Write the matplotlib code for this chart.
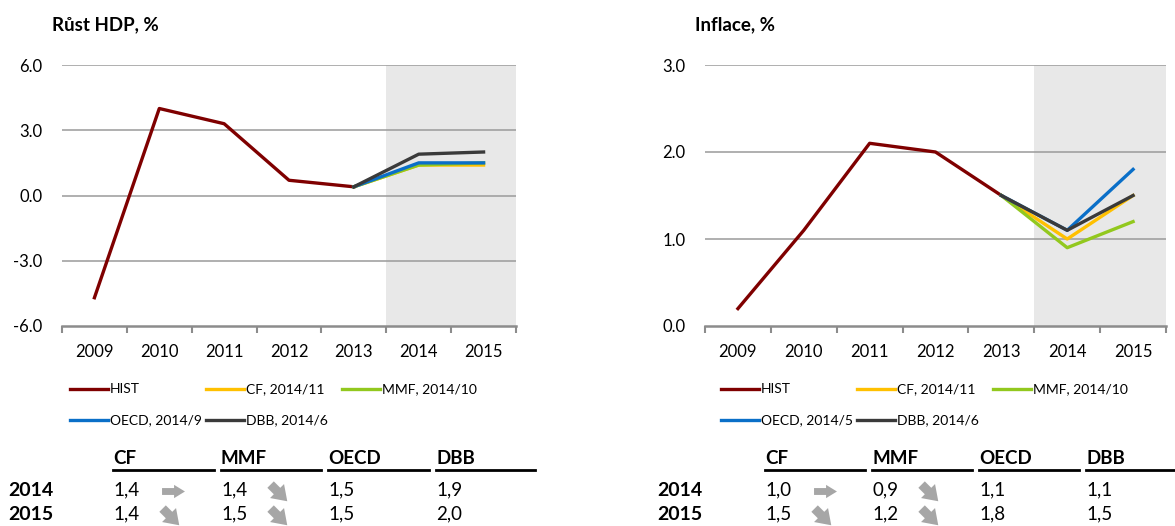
import numpy as np
import matplotlib
matplotlib.use("Agg")
from matplotlib import pyplot as plt
from matplotlib.lines import Line2D
from matplotlib.path import Path

# data
years = ["2009", "2010", "2011", "2012", "2013", "2014", "2015"]

gdp_hist = [-4.7, 4.0, 3.3, 0.7, 0.4]
gdp_cf = [0.4, 1.4, 1.4]
gdp_mmf = [0.4, 1.4, 1.5]
gdp_oecd = [0.4, 1.5, 1.5]
gdp_dbb = [0.4, 1.9, 2.0]

inf_hist = [0.2, 1.1, 2.1, 2.0, 1.5]
inf_cf = [1.5, 1.0, 1.5]
inf_mmf = [1.5, 0.9, 1.2]
inf_oecd = [1.5, 1.1, 1.8]
inf_dbb = [1.5, 1.1, 1.5]

gdp_labels = ["HIST", "CF, 2014/11", "MMF, 2014/10", "OECD, 2014/9", "DBB, 2014/6"]
inf_labels = ["HIST", "CF, 2014/11", "MMF, 2014/10", "OECD, 2014/5", "DBB, 2014/6"]

table_cols = ["CF", "MMF", "OECD", "DBB"]
table_rows = ["2014", "2015"]
# sipky: "r" = beze zmeny, "d" = snizeni
gdp_arrows = {"CF": ["r", "d"], "MMF": ["d", "d"]}
inf_arrows = {"CF": ["r", "d"], "MMF": ["d", "d"]}

colors = ["#7F0000", "#FFC000", "#92C81E", "#0A6FC8", "#3A3A3A"]

plt.rcParams["font.family"] = ["Lato", "DejaVu Sans"]

W, H = 1175, 526
fig = plt.figure(figsize=(W / 100, H / 100), dpi=100)


def fx(x):
    return x / W


def fy(y):
    return 1 - y / H


def arrow_path(shaft_start, head_half, angle):
    pts = np.array([[shaft_start, -0.3], [0.05, -0.3], [0.05, -head_half], [1, 0],
                    [0.05, head_half], [0.05, 0.3], [shaft_start, 0.3], [shaft_start, -0.3]])
    a = np.deg2rad(angle)
    rot = np.array([[np.cos(a), -np.sin(a)], [np.sin(a), np.cos(a)]])
    pts = pts @ rot.T
    return Path(pts, closed=True)


right_arrow = arrow_path(-1, 0.58, 0)
down_arrow = arrow_path(-0.55, 0.65, -45)


def chart(left, right, leg_x, title, series, labels, yticks):
    ax = fig.add_axes([fx(left), fy(326), fx(right - left), fy(65) - fy(326)])
    x = list(range(len(years)))
    ax.axvspan(4.5, 6.5, color="#E8E8E8", zorder=0, lw=0)
    for t in yticks[1:]:
        ax.axhline(t, color="#9A9A9A", lw=1.1, zorder=1)
    for i, s in enumerate(series):
        xs = x[:5] if i == 0 else x[4:]
        ax.plot(xs, s, color=colors[i], lw=2.4, zorder=3)
    ax.set_xlim(-0.5, 6.5)
    ax.set_ylim(yticks[0], yticks[-1])
    ax.set_yticks(yticks)
    ax.set_yticklabels([f"{t:.1f}" for t in yticks], fontsize=12)
    ax.set_xticks(x)
    ax.set_xticklabels(years, fontsize=12)
    ax.set_xticks([i - 0.5 for i in range(len(years) + 1)], minor=True)
    ax.tick_params(axis="x", which="major", length=0, pad=13)
    ax.tick_params(axis="x", which="minor", length=5, width=1.5, color="#8C8C8C")
    ax.tick_params(axis="y", length=0, pad=14)
    for s in ["left", "right", "top"]:
        ax.spines[s].set_visible(False)
    ax.spines["bottom"].set_color("#8C8C8C")
    ax.spines["bottom"].set_linewidth(1.8)
    ax.set_facecolor("none")
    fig.text(fx(left - 10), fy(25), title, fontsize=13.5, fontweight="bold",
             ha="left", va="center")
    # legenda: pevna mrizka jako v Excelu
    for k in range(len(labels)):
        cx = leg_x + 136 * (k % 3)
        cy = 389 + 31 * (k // 3)
        fig.add_artist(Line2D([fx(cx), fx(cx + 38)], [fy(cy), fy(cy)],
                              color=colors[k], lw=2.4))
        fig.text(fx(cx + 40), fy(cy), labels[k], fontsize=10, ha="left", va="center")
    return ax


def table(x_label, col_x, vals, arrows, right_edge):
    row_y = [490, 514]
    for i, c in enumerate(table_cols):
        x0 = col_x[i]
        x1 = col_x[i + 1] - 7 if i < 3 else right_edge
        fig.text(fx(x0), fy(458), c, fontsize=13.5, fontweight="bold", ha="left", va="center")
        fig.add_artist(Line2D([fx(x0), fx(x1)], [fy(470), fy(470)], color="black", lw=2))
        for j, r in enumerate(table_rows):
            y = row_y[j]
            fig.text(fx(x0), fy(y), f"{vals[c][j]:.1f}".replace(".", ","), fontsize=13.5,
                     ha="left", va="center")
            if c in arrows:
                if arrows[c][j] == "r":
                    fig.add_artist(Line2D([fx(x0 + 60)], [fy(y + 1)], marker=right_arrow,
                                          markersize=16.5, color="#A6A6A6", lw=0,
                                          markeredgewidth=0))
                else:
                    fig.add_artist(Line2D([fx(x0 + 55)], [fy(y)], marker=down_arrow,
                                          markersize=15.5, color="#A6A6A6", lw=0,
                                          markeredgewidth=0))
    for j, r in enumerate(table_rows):
        fig.text(fx(x_label), fy(row_y[j]), r, fontsize=14, fontweight="bold",
                 ha="left", va="center")


chart(62, 516, 70, "Růst HDP, %", [gdp_hist, gdp_cf, gdp_mmf, gdp_oecd, gdp_dbb],
      gdp_labels, [-6, -3, 0, 3, 6])
chart(705, 1166, 721, "Inflace, %", [inf_hist, inf_cf, inf_mmf, inf_oecd, inf_dbb],
      inf_labels, [0, 1, 2, 3])

gdp_vals = {"CF": gdp_cf[1:], "MMF": gdp_mmf[1:], "OECD": gdp_oecd[1:], "DBB": gdp_dbb[1:]}
inf_vals = {"CF": inf_cf[1:], "MMF": inf_mmf[1:], "OECD": inf_oecd[1:], "DBB": inf_dbb[1:]}

table(8, [113, 221, 328, 436], gdp_vals, gdp_arrows, 535)
table(657, [765, 872, 979, 1086], inf_vals, inf_arrows, 1175)

fig.savefig("out.png", dpi=100)
